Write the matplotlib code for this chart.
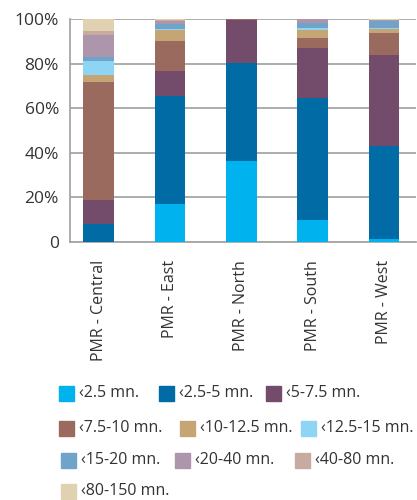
import matplotlib
matplotlib.use("Agg")
import matplotlib.pyplot as plt
from matplotlib.patches import Rectangle
import numpy as np

plt.rcParams["font.family"] = ["Open Sans", "DejaVu Sans"]

regions = ["PMR - Central", "PMR - East", "PMR - North", "PMR - South", "PMR - West"]
bands = ["‹2.5 mn.", "‹2.5-5 mn.", "‹5-7.5 mn.", "‹7.5-10 mn.", "‹10-12.5 mn.",
         "‹12.5-15 mn.", "‹15-20 mn.", "‹20-40 mn.", "‹40-80 mn.", "‹80-150 mn."]

# share (%) of each size band per region: Central, East, North, South, West
lt_2_5 = [0.0, 17.0, 36.3, 9.9, 1.3]
b_2_5_5 = [8.2, 48.5, 44.0, 54.8, 41.9]
b_5_7_5 = [10.6, 11.2, 19.3, 22.3, 40.7]
b_7_5_10 = [52.9, 13.4, 0.4, 4.5, 9.8]
b_10_12_5 = [3.2, 5.1, 0.0, 3.6, 1.8]
b_12_5_15 = [6.3, 0.5, 0.0, 0.9, 0.5]
b_15_20 = [1.8, 2.1, 0.0, 2.2, 3.1]
b_20_40 = [9.8, 1.3, 0.0, 1.8, 0.4]
b_40_80 = [1.8, 0.4, 0.0, 0.0, 0.2]
b_80_150 = [5.4, 0.5, 0.0, 0.0, 0.3]

series = [lt_2_5, b_2_5_5, b_5_7_5, b_7_5_10, b_10_12_5,
          b_12_5_15, b_15_20, b_20_40, b_40_80, b_80_150]
colors = ["#00b2ee", "#006ba4", "#724c6a", "#9a6a5e", "#c5a574",
          "#8dd4f5", "#70a3c9", "#ad96ab", "#c8aaa0", "#e0d1b0"]

W, H = 417, 500
fig = plt.figure(figsize=(W / 100, H / 100), dpi=100)
ax = fig.add_axes([70 / W, 1 - 242 / H, 346 / W, 223 / H])

x = np.arange(len(regions))
bottom = np.zeros(len(regions))
for vals, c in zip(series, colors):
    ax.bar(x, vals, 0.43, bottom=bottom, color=c, zorder=3)
    bottom += np.array(vals)

ax.set_xlim(-0.4, 4.45)
ax.set_ylim(0, 100)
ax.set_yticks([0, 20, 40, 60, 80, 100])
ax.set_yticklabels(["0", "20%", "40%", "60%", "80%", "100%"])
ax.set_xticks(x)
ax.set_xticklabels(regions, rotation=90)
ax.tick_params(axis="y", length=0, pad=8, labelsize=12.5, colors="#333333")
ax.tick_params(axis="x", length=0, pad=13, labelsize=11.5, colors="#333333")
ax.grid(axis="y", color="#a3a8a4", linewidth=1.3, zorder=0)
for s in ["top", "right"]:
    ax.spines[s].set_visible(False)
ax.spines["left"].set_color("#a3a8a4")
ax.spines["bottom"].set_color("#a3a8a4")
ax.spines["left"].set_linewidth(1.3)
ax.spines["bottom"].set_linewidth(1.3)

# legend, laid out in rows like the original
leg_rows = [(393, [59, 159, 266]), (428, [59, 180, 301]), (460, [61, 175, 295]), (491, [61])]
i = 0
for yc, xs in leg_rows:
    for xl in xs:
        fig.add_artist(Rectangle((xl / W, 1 - (yc + 7.5) / H), 15 / W, 15 / H,
                                 transform=fig.transFigure, color=colors[i]))
        fig.text((xl + 20) / W, 1 - yc / H, bands[i], fontsize=11.5, color="#333333",
                 va="center", ha="left")
        i += 1

fig.savefig("out.png", dpi=100)
